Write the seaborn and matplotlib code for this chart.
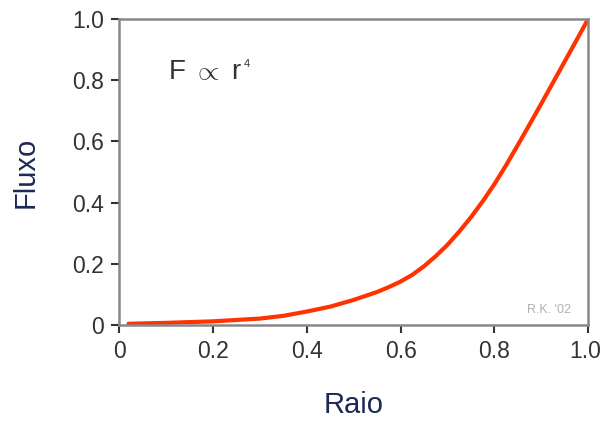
import matplotlib
matplotlib.use("Agg")
import matplotlib.pyplot as plt
import matplotlib.transforms as mtransforms
import seaborn as sns
import pandas as pd

# values
raio = [0.02, 0.1, 0.2, 0.3, 0.35, 0.4, 0.45, 0.5, 0.55, 0.575, 0.6, 0.625, 0.65, 0.675,
        0.7, 0.725, 0.75, 0.775, 0.8, 0.825, 0.85, 0.875, 0.9, 0.925, 0.95, 0.975, 1.0]
fluxo = [0.004, 0.007, 0.012, 0.021, 0.03, 0.044, 0.06, 0.082, 0.108, 0.124, 0.142, 0.164, 0.192, 0.225,
         0.262, 0.305, 0.352, 0.404, 0.46, 0.522, 0.588, 0.655, 0.723, 0.792, 0.861, 0.93, 1.0]
xticks = [0, 0.2, 0.4, 0.6, 0.8, 1.0]
xticklabels = ['0', '0.2', '0.4', '0.6', '0.8', '1.0']
yticks = [0, 0.2, 0.4, 0.6, 0.8, 1.0]
yticklabels = ['0', '0.2', '0.4', '0.6', '0.8', '1.0']

sns.set_theme(style="white")
plt.rcParams['font.family'] = ['Liberation Sans', 'DejaVu Sans']
plt.rcParams['mathtext.fontset'] = 'custom'
plt.rcParams['mathtext.rm'] = 'Liberation Sans'
plt.rcParams['mathtext.it'] = 'Liberation Sans'

df = pd.DataFrame({'Raio': raio, 'Fluxo': fluxo})

fig = plt.figure(figsize=(6.02, 4.21), dpi=100)
ax = fig.add_axes([0.198, 0.228, 0.779, 0.727])

sns.lineplot(data=df, x='Raio', y='Fluxo', color='#ff3300', linewidth=3, ax=ax)

ax.set_xlim(0, 1)
ax.set_ylim(0, 1)
ax.set_xticks(xticks)
ax.set_xticklabels(xticklabels)
ax.set_yticks(yticks)
ax.set_yticklabels(yticklabels)
ax.tick_params(axis='both', direction='out', length=6, width=1.5, color='#333333',
               labelsize=16.5, labelcolor='#333333', left=True, bottom=True, pad=5)

# keep the last x label inside the figure
last = ax.get_xticklabels()[-1]
last.set_transform(last.get_transform() + mtransforms.ScaledTranslation(-3 / 100, 0, fig.dpi_scale_trans))

for side in ['left', 'bottom', 'top', 'right']:
    ax.spines[side].set_color('#888888')
    ax.spines[side].set_linewidth(1.8)

ax.set_xlabel('Raio', fontsize=21, color='#1c2955', labelpad=20)
ax.set_ylabel('Fluxo', fontsize=21, color='#1c2955', labelpad=23)

formula = ax.text(0.104, 0.804, 'F $\\propto$ r', fontsize=20, color='#333333', ha='left', va='baseline')
ax.annotate('4', xy=(1, 1), xycoords=formula, xytext=(1, 0), textcoords='offset points',
            fontsize=8, color='#333333', ha='left', va='top')
ax.text(0.87, 0.038, "R.K. '02", fontsize=9, color='#b0b0b0', ha='left', va='baseline')

fig.savefig('out.png', dpi=100)
